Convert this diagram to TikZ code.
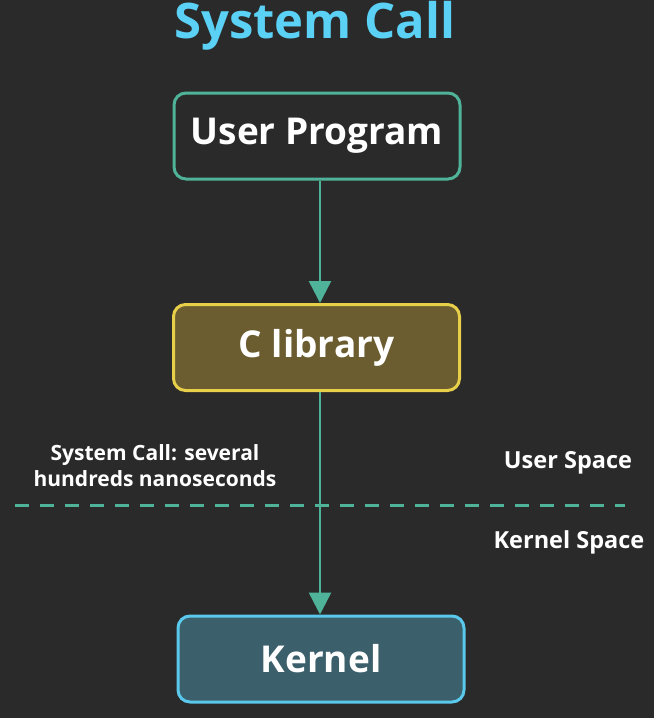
\documentclass[tikz,border=0pt]{standalone}
\usepackage{fontspec}
\setmainfont{Open Sans}
\usetikzlibrary{arrows.meta}
\definecolor{bg}{HTML}{2A2A2A}
\definecolor{teal}{HTML}{4FB39A}
\definecolor{titlec}{HTML}{5AD1F5}
\definecolor{libfill}{HTML}{6B5D30}
\definecolor{libdraw}{HTML}{E8CF4A}
\definecolor{kfill}{HTML}{3B5F6B}
\definecolor{kdraw}{HTML}{5AC8EA}
\tikzset{
  box/.style={rounded corners=12pt, line width=3pt, minimum width=286pt, minimum height=86pt, text=white, font=\bfseries\fontsize{37}{42}\selectfont},
  conn/.style={teal, line width=2.5pt, -{Triangle[length=22pt,width=22pt]}},
  lbl/.style={text=white, font=\bfseries\fontsize{21}{26}\selectfont, align=center},
  sidelbl/.style={text=white, font=\bfseries\fontsize{23.5}{26}\selectfont},
}
\begin{document}
\begin{tikzpicture}[x=1pt,y=-1pt]
\fill[bg] (0,0) rectangle (654,718);
\useasboundingbox (0,0) rectangle (654,718);
\node[text=titlec, font=\bfseries\fontsize{49}{54}\selectfont] (title) at (315,26) {System Call};
\node[box, draw=teal, fill=bg] (user) at (317,136) {User Program};
\node[box, draw=libdraw, fill=libfill] (lib) at (316.5,347.5) {C library};
\node[box, draw=kdraw, fill=kfill] (kern) at (321,659) {Kernel};
\coordinate (dl) at (15,505);
\coordinate (dr) at (625,505);
\draw[teal, line width=3pt, dash pattern=on 14pt off 11pt] (dl) -- (dr);
\draw[conn] (user.south -| 320,0) -- (lib.north -| 320,0);
\draw[conn] (lib.south -| 320,0) -- (kern.north -| 320,0);
\node[lbl] (sc) at (155,466) {System Call: several\\hundreds nanoseconds};
\node[sidelbl] (us) at (568,463) {User Space};
\node[sidelbl] (ks) at (569,542) {Kernel Space};
\end{tikzpicture}
\end{document}
